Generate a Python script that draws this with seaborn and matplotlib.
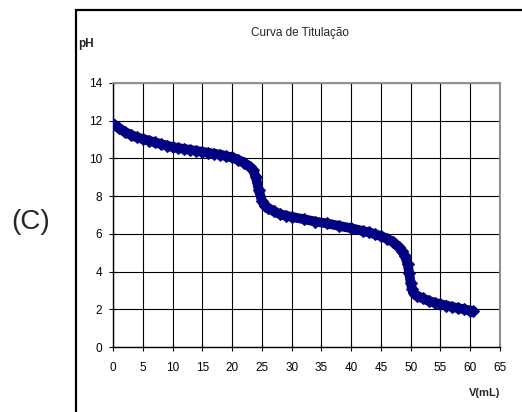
import matplotlib
matplotlib.use("Agg")
import matplotlib.pyplot as plt
import seaborn as sns
import pandas as pd
from matplotlib.patches import Rectangle

# Titration data: volume of titrant added (mL) and measured pH
volume_ml = [0, 1, 2, 3, 4, 5, 6, 7, 8, 9, 10, 11, 12, 13, 14, 15, 16, 17, 18, 19,
             20, 21, 22, 23, 23.5, 24, 24.5, 25, 25.5, 26, 27, 28, 29, 30, 32, 34,
             36, 38, 40, 42, 43, 44, 45, 46, 47, 48, 48.5, 49, 49.5, 49.75, 50,
             50.25, 50.5, 51, 52, 53, 54, 55, 56, 57, 58, 59, 60, 60.5]
ph_values = [11.85, 11.6, 11.4, 11.25, 11.12, 11.03, 10.95, 10.85, 10.77, 10.68,
             10.6, 10.55, 10.5, 10.45, 10.4, 10.35, 10.3, 10.25, 10.2, 10.12,
             10.05, 9.93, 9.78, 9.55, 9.4, 9.0, 8.3, 7.75, 7.5, 7.38, 7.2, 7.05,
             6.97, 6.9, 6.78, 6.65, 6.55, 6.42, 6.3, 6.15, 6.08, 5.98, 5.88, 5.75,
             5.58, 5.3, 5.1, 4.85, 4.4, 3.9, 3.4, 3.05, 2.85, 2.72, 2.58, 2.45,
             2.35, 2.27, 2.2, 2.12, 2.06, 2.0, 1.93, 1.9]
x_ticks = list(range(0, 70, 5))
y_ticks = list(range(0, 16, 2))

sns.set_style("white")
plt.rcParams["font.family"] = ["Liberation Sans", "DejaVu Sans"]

df = pd.DataFrame({"V": volume_ml, "pH": ph_values})

fig = plt.figure(figsize=(5.22, 4.12), dpi=100)
ax = fig.add_axes([113 / 522, 65 / 412, 387 / 522, 264 / 412])

sns.lineplot(data=df, x="V", y="pH", ax=ax, color="#000080", linewidth=7,
             marker="D", markersize=6, markeredgecolor="#000080", zorder=3)

ax.set_xlim(0, 65)
ax.set_ylim(0, 14)
ax.set_xticks(x_ticks)
ax.set_yticks(y_ticks)
ax.grid(True, color="black", linewidth=0.8)
ax.set_axisbelow(True)
ax.set_xlabel("")
ax.set_ylabel("")
ax.tick_params(axis="both", direction="inout", length=6, width=0.8,
               labelsize=8.5, colors="black")
ax.tick_params(axis="x", bottom=True, pad=8)
ax.tick_params(axis="y", left=True, pad=5)
for side in ("left", "bottom"):
    ax.spines[side].set_color("black")
    ax.spines[side].set_linewidth(1.0)
for side in ("top", "right"):
    ax.spines[side].set_color("#909090")
    ax.spines[side].set_linewidth(1.5)

# Outer chart frame
fig.patches.append(Rectangle((76 / 522, -0.1), 1.0, (412 - 10) / 412 + 0.1,
                             transform=fig.transFigure, fill=False,
                             edgecolor="black", linewidth=1.6))

fig.text(300 / 522, 1 - 33 / 412, "Curva de Titulação", ha="center", va="center",
         fontsize=8.5)
fig.text(78 / 522, 1 - 44 / 412, "pH", ha="left", va="center", fontsize=8.5,
         fontweight="bold")
fig.text(500 / 522, 1 - 393 / 412, "V(mL)", ha="right", va="center", fontsize=8,
         fontweight="bold")
fig.text(31 / 522, 1 - 222 / 412, "(C)", ha="center", va="center", fontsize=20)

fig.savefig("out.png", dpi=100)
